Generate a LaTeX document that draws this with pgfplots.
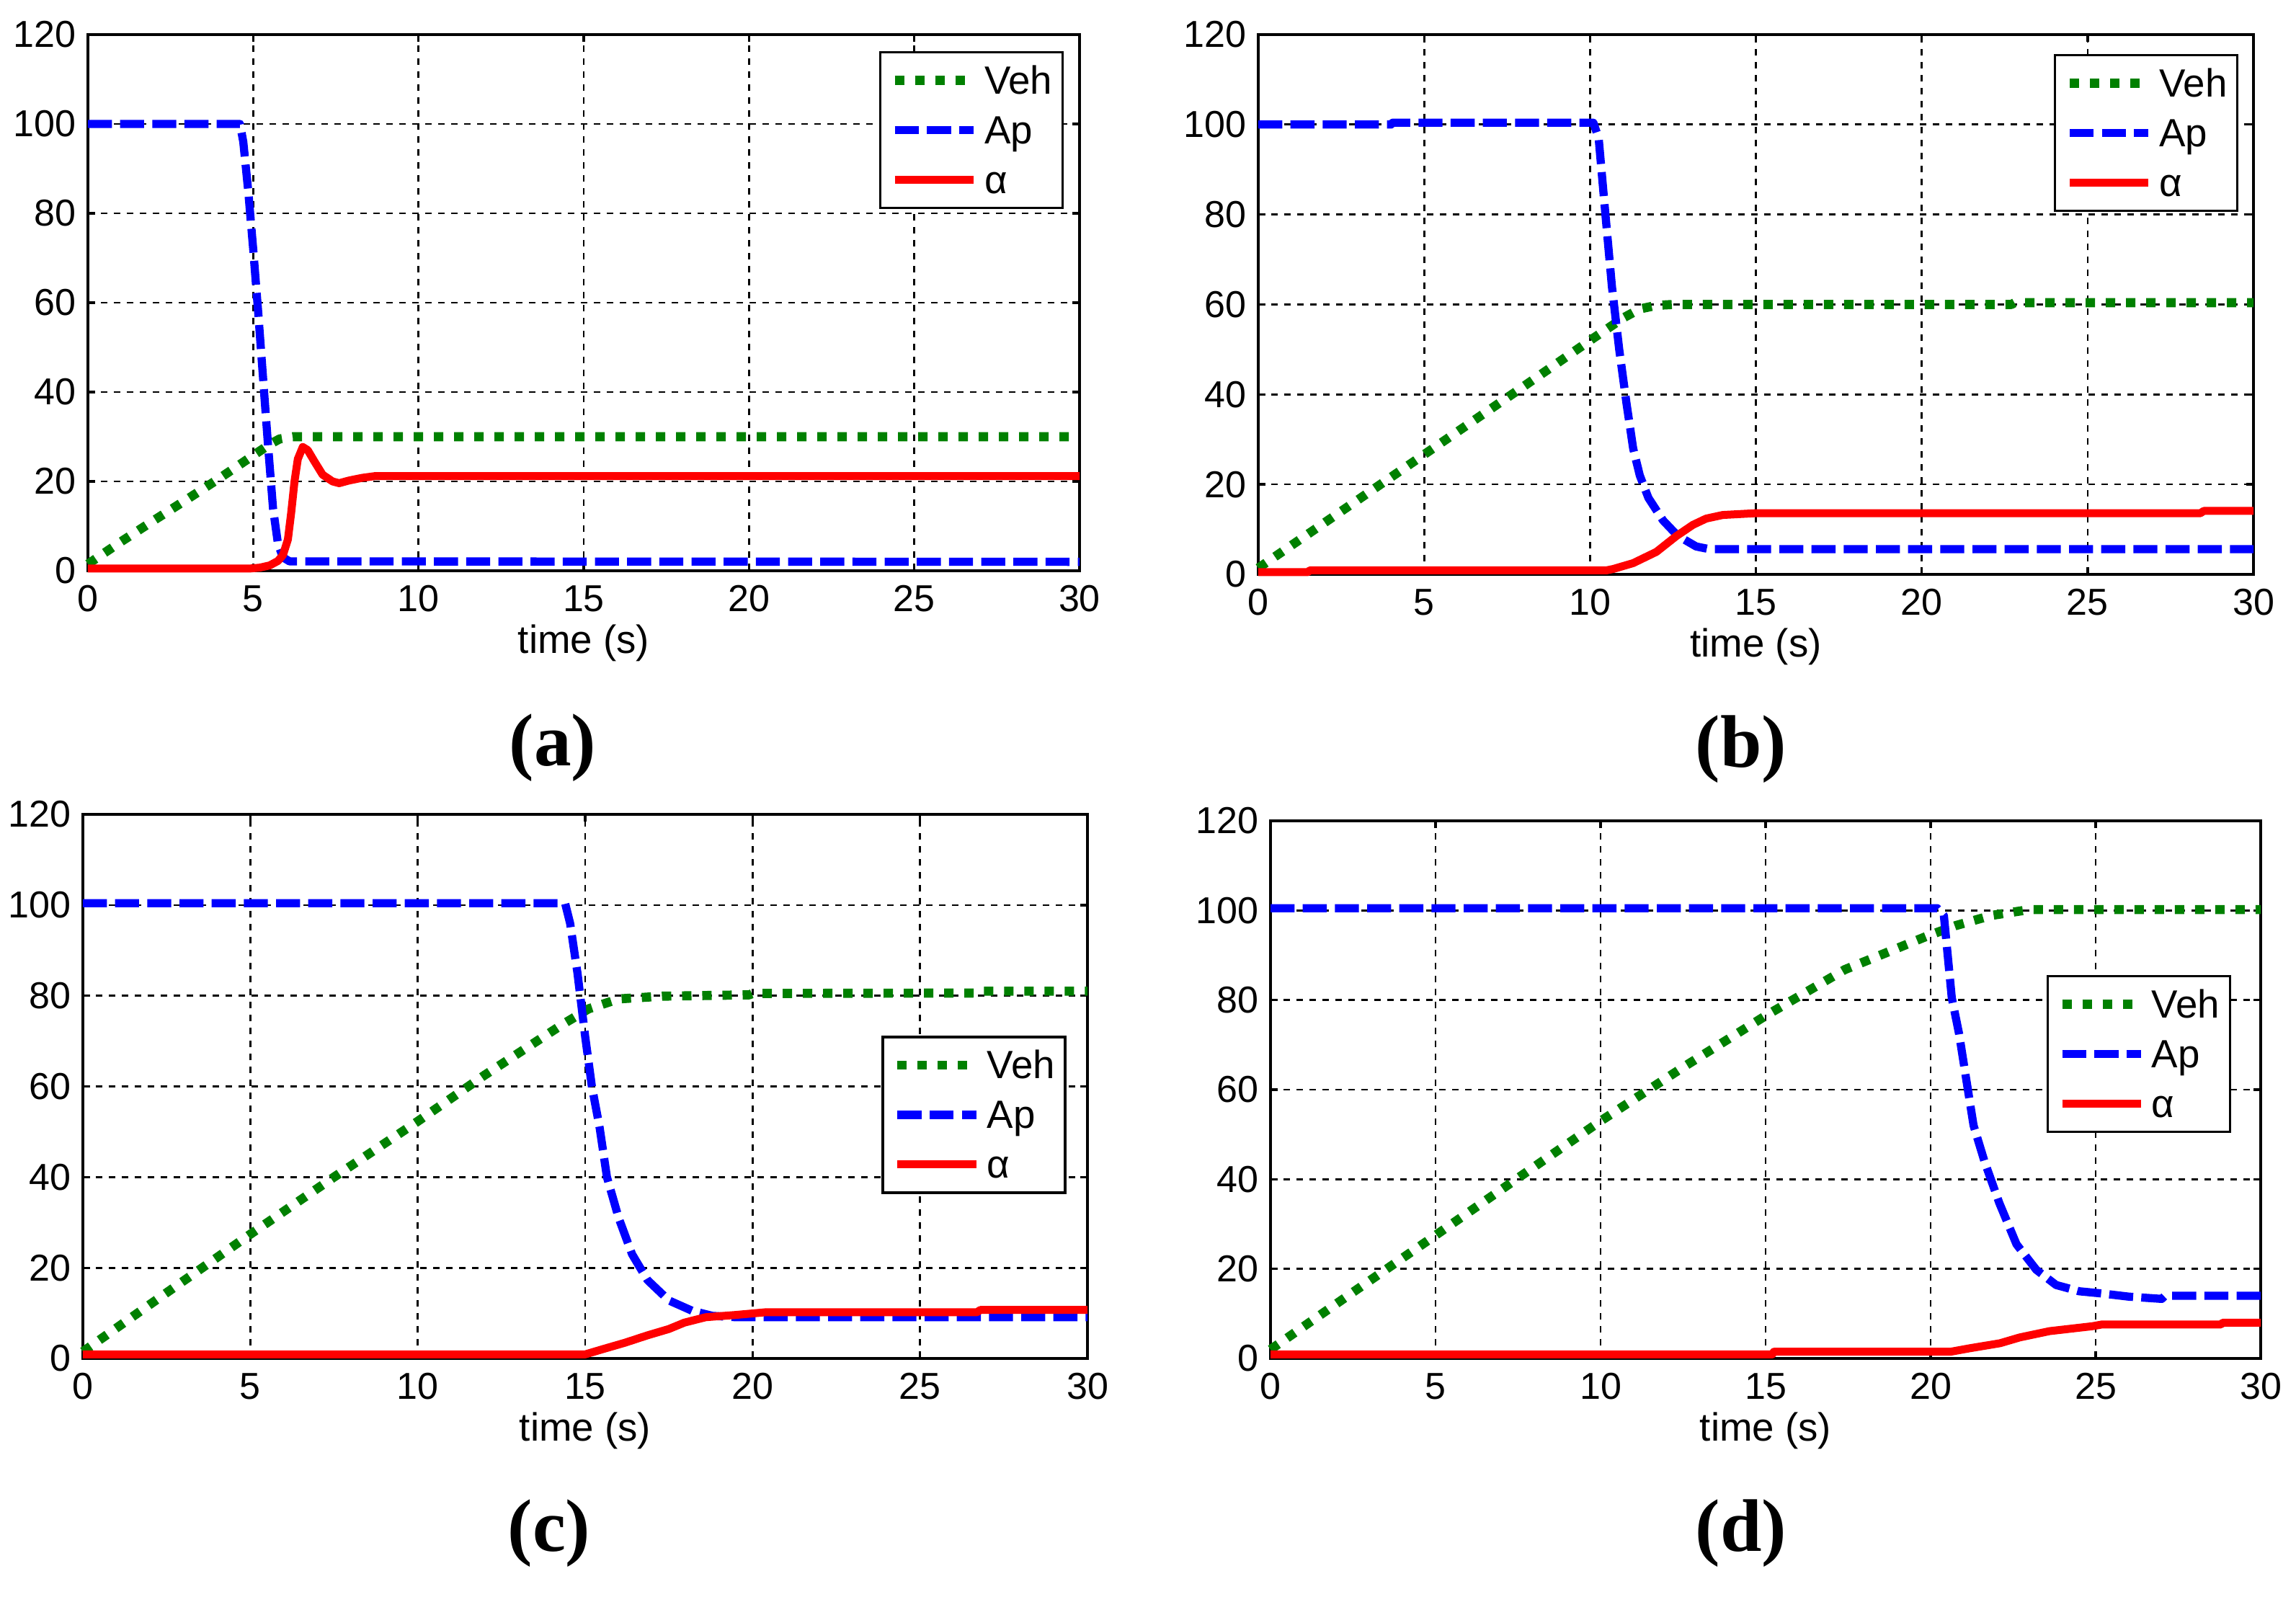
\documentclass[border=0pt]{standalone}
\usepackage{fontspec}
\setmainfont{Liberation Sans}
\newfontfamily\subfont{Liberation Serif}
\usepackage{pgfplots}
\pgfplotsset{compat=1.18}
\definecolor{vehgreen}{RGB}{0,128,0}
\definecolor{apblue}{RGB}{0,0,255}
\definecolor{alred}{RGB}{255,0,0}
\newcommand{\tfont}{\fontsize{7.8}{9}\selectfont}
\newcommand{\lfont}{\fontsize{8.2}{9}\selectfont}
\pgfplotsset{
  panel/.style={
    scale only axis, anchor=south west,
    xmin=0, xmax=30, ymin=0, ymax=120,
    xtick={0,5,...,30}, ytick={0,20,...,120},
    grid=major,
    major grid style={black, line width=0.4pt, dash pattern=on 1.3pt off 1.4pt},
    axis line style={line width=0.5pt},
    tick align=inside, major tick length=1.5pt,
    tick style={black, line width=0.5pt},
    tick label style={font=\tfont},
    /pgf/number format/assume math mode=true,
    xticklabel style={anchor=north, inner sep=0pt, yshift=-2.85pt},
    yticklabel style={anchor=east, inner sep=0pt, xshift=-2.25pt},
    xlabel={time (s)},
    xlabel style={font=\lfont, at={(axis description cs:0.5,0)}, anchor=center, inner sep=0pt, yshift=-15pt},
    legend cell align=left,
    legend style={draw=black, line width=0.5pt, fill=white, font=\lfont,
      inner xsep=2.1pt, inner ysep=3pt, row sep=4.65pt, anchor=north east,
      nodes={inner sep=0pt, text height=5.7pt, text depth=0pt},
      /tikz/every odd column/.append style={column sep=1.3pt}},
    legend image code/.code={\draw[##1] (0pt,0pt) -- (16.4pt,0pt);},
    clip=false,
  },
  veh/.style={color=vehgreen, line width=1.9pt, dash pattern=on 1.95pt off 2.25pt, line join=round},
  ap/.style={color=apblue, line width=1.7pt, dash pattern=on 5pt off 1.7pt, line join=round},
  al/.style={color=alred, line width=1.65pt, solid, line join=round},
}
\begin{document}
\begin{tikzpicture}
\useasboundingbox (0pt,0pt) rectangle (477.9pt,332.25pt);

% (a)
\begin{axis}[panel, at={(18.3pt,213.45pt)}, width=206.4pt, height=111.6pt,
  legend style={at={(0.984,0.969)}}]
\addplot[veh] coordinates {(0,1.5) (1,6.5) (2,11.3) (3,16) (4,20.8) (5,25.8) (5.5,28.3) (5.8,29.5) (6.2,30) (30,30)};
\addplot[ap] coordinates {(0,100) (4.6,100) (4.7,96) (4.85,85) (5.0,72) (5.15,58) (5.3,43) (5.45,28) (5.6,14) (5.75,6) (5.9,3) (6.1,2.1) (30,2)};
\addplot[al] coordinates {(0,0.5) (4.9,0.5) (5.2,0.7) (5.5,1.2) (5.75,2.2) (5.9,3.5) (6.05,7) (6.15,13) (6.25,20) (6.35,25) (6.5,27.7) (6.65,27) (6.85,24.5) (7.1,21.5) (7.4,20) (7.6,19.6) (7.9,20.2) (8.3,20.8) (8.7,21.2) (30,21.2)};
\legend{Veh,Ap,α}
\end{axis}

% (b)
\begin{axis}[panel, at={(261.9pt,212.7pt)}, width=207.15pt, height=112.35pt,
  legend style={at={(0.985,0.964)}}]
\addplot[veh] coordinates {(0,1.4) (2,11.5) (4,21.6) (6,31.7) (8,41.8) (10,52) (10.5,54.5) (11,57) (11.5,59) (12,59.8) (12.5,60) (22.7,60) (22.8,60.4) (30,60.4)};
\addplot[ap] coordinates {(0,100) (4,100) (4.05,100.4) (10.1,100.4) (10.26,97) (10.44,82) (10.66,64) (10.88,50) (11.1,38) (11.3,28) (11.5,22) (11.76,17) (12.2,12) (12.64,8.6) (13.2,6.2) (13.6,5.6) (30,5.6)};
\addplot[al] coordinates {(0,0.5) (1.5,0.5) (1.55,0.9) (10.5,0.9) (10.7,1.2) (11.3,2.5) (12,5) (12.6,8.5) (13.1,11) (13.5,12.4) (14,13.2) (15,13.6) (28.4,13.6) (28.5,14.1) (30,14.1)};
\legend{Veh,Ap,α}
\end{axis}

% (c)
\begin{axis}[panel, at={(17.25pt,49.5pt)}, width=209.1pt, height=113.25pt,
  legend style={at={(0.979,0.593)}}]
\addplot[veh] coordinates {(0,1.5) (2.5,14.5) (5,27.4) (7.5,40) (10,52.3) (12,62.5) (14.33,73.7) (15.1,77.1) (16,79.3) (17.3,79.9) (19.9,80.2) (20,80.5) (26.7,80.6) (26.8,81) (30,81)};
\addplot[ap] coordinates {(0,100.4) (14.4,100.4) (14.55,96) (14.77,85) (15,71) (15.2,60) (15.43,51) (15.65,40) (16,31) (16.4,23) (16.86,17.3) (17.5,12.8) (18.2,10.5) (18.8,9.4) (19.5,9.1) (30,9.1)};
\addplot[al] coordinates {(0,0.9) (15,0.9) (15.5,2) (16.2,3.5) (16.86,5.1) (17.5,6.5) (17.96,7.9) (18.6,9.1) (19.5,9.6) (20.4,10.2) (26.7,10.2) (26.8,10.7) (30,10.7)};
\legend{Veh,Ap,α}
\end{axis}

% (d)
\begin{axis}[panel, at={(264.45pt,49.5pt)}, width=206.1pt, height=111.9pt,
  legend style={at={(0.970,0.713)}}]
\addplot[veh] coordinates {(0,2) (2.5,14.8) (5,27.5) (7.5,40.3) (10,53) (12.5,65) (15,76.5) (17.4,86.8) (19.9,94.3) (20.75,96.6) (21.85,98.9) (23,100.2) (30,100.2)};
\addplot[ap] coordinates {(0,100.5) (20.2,100.5) (20.4,98.9) (20.64,80.5) (20.86,72.5) (21.08,62.2) (21.3,52) (21.63,44) (22.08,34.7) (22.6,25.5) (23.2,19.8) (23.8,16.4) (24.5,15) (25.2,14.5) (26,13.8) (27,13.3) (27.1,14) (30,14)};
\addplot[al] coordinates {(0,0.9) (15.2,0.9) (15.25,1.5) (20.6,1.5) (21.2,2.3) (22.1,3.4) (22.7,4.7) (23.6,6.1) (24.9,7.2) (25.2,7.6) (28.8,7.6) (28.85,8) (30,8)};
\legend{Veh,Ap,α}
\end{axis}

\node[font=\subfont\bfseries\fontsize{15.5}{17}\selectfont, inner sep=0pt] at (115.05pt,176.55pt) {(a)};
\node[font=\subfont\bfseries\fontsize{15.5}{17}\selectfont, inner sep=0pt] at (362.4pt,176.25pt) {(b)};
\node[font=\subfont\bfseries\fontsize{15.5}{17}\selectfont, inner sep=0pt] at (114.3pt,13.05pt) {(c)};
\node[font=\subfont\bfseries\fontsize{15.5}{17}\selectfont, inner sep=0pt] at (362.4pt,13.05pt) {(d)};
\end{tikzpicture}
\end{document}
